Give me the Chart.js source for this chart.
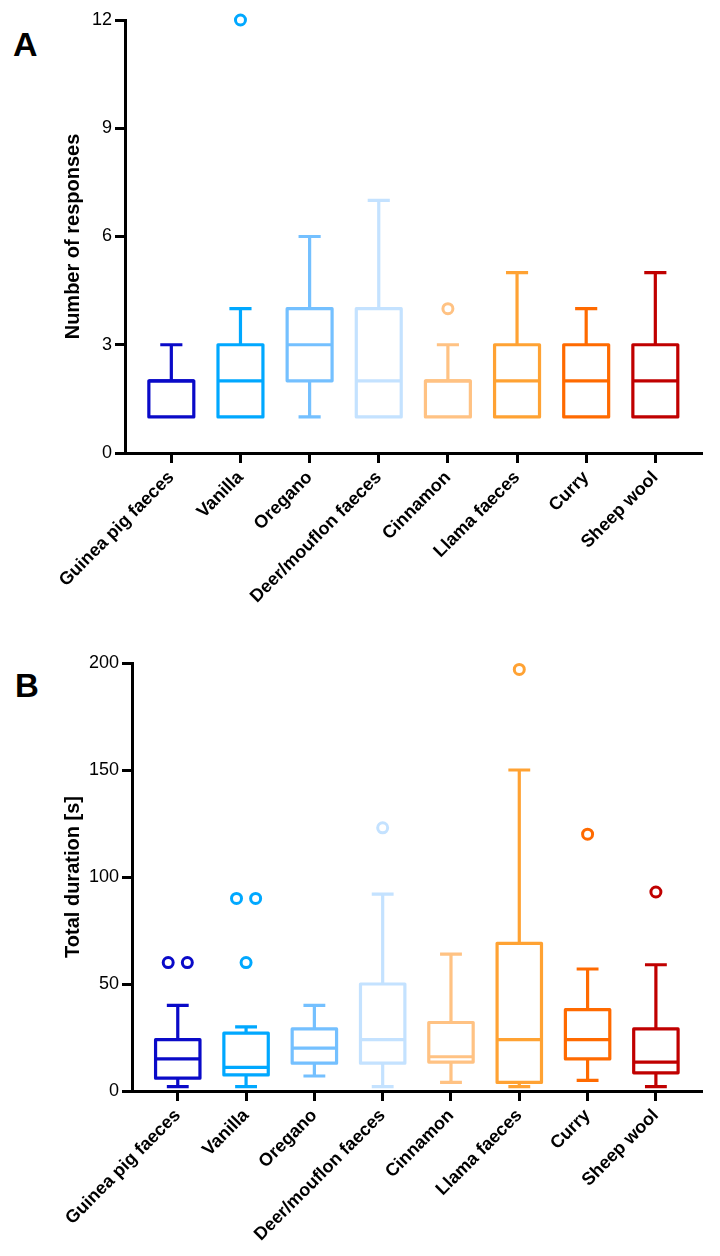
<!DOCTYPE html>
<html>
<head>
<meta charset="utf-8">
<script src="https://cdn.jsdelivr.net/npm/chart.js@4/dist/chart.umd.min.js"></script>
<style>
  html, body { margin: 0; padding: 0; background: #fff; }
  body { width: 720px; height: 1256px; position: relative; overflow: hidden; font-family: "Liberation Sans", Arial, sans-serif; }
  .wrap { position: absolute; left: 0; width: 720px; }
  .letter { position: absolute; font-weight: bold; line-height: 1; color: #000; font-family: "Liberation Sans", Arial, sans-serif; }
</style>
</head>
<body>
<div class="letter" style="left:13px; top:27px; font-size:34px;">A</div>
<div class="letter" style="left:15px; top:669px; font-size:33px;">B</div>
<div class="wrap" style="top:0; height:640px;"><canvas id="chartA" width="720" height="640"></canvas></div>
<div class="wrap" style="top:620px; height:636px;"><canvas id="chartB" width="720" height="636"></canvas></div>
<script>
// ---- Data ----
const categories = ["Guinea pig faeces", "Vanilla", "Oregano", "Deer/mouflon faeces", "Cinnamon", "Llama faeces", "Curry", "Sheep wool"];
const colors = ["#0a0ac8", "#00a8ff", "#74c0ff", "#c4e2ff", "#ffc283", "#ffa233", "#ff6a00", "#c00000"];

// Panel A: Number of responses
const responsesTicks = [0, 3, 6, 9, 12];
const responsesMin    = [1, 1, 1, 1, 1, 1, 1, 1];
const responsesQ1     = [1, 1, 2, 1, 1, 1, 1, 1];
const responsesMedian = [2, 2, 3, 2, 2, 2, 2, 2];
const responsesQ3     = [2, 3, 4, 4, 2, 3, 3, 3];
const responsesMax    = [3, 4, 6, 7, 3, 5, 4, 5];
const responsesOutliers = [[], [12], [], [], [4], [], [], []];

// Panel B: Total duration [s]
const durationTicks = [0, 50, 100, 150, 200];
const durationMin    = [2, 2, 7, 2, 4, 2, 5, 2];
const durationQ1     = [6, 7.5, 13, 13, 13.5, 4, 15, 8.5];
const durationMedian = [15, 11, 20, 24, 16, 24, 24, 13.5];
const durationQ3     = [24, 27, 29, 50, 32, 69, 38, 29];
const durationMax    = [40, 30, 40, 92, 64, 150, 57, 59];
const durationOutliers = [[60, 60], [90, 90, 60], [], [123], [], [197], [120], [93]];

// ---- Helpers ----
const FONT = "'Liberation Sans', Arial, sans-serif";
Chart.defaults.color = '#000';
Chart.defaults.font.family = FONT;

const boxPlugin = {
  id: 'boxes',
  beforeDatasetsDraw(chart) {
    const o = chart.options.plugins.boxes;
    if (!o) return;
    const { ctx } = chart;
    const x = chart.scales.x, y = chart.scales.y;
    ctx.save();
    ctx.lineWidth = 3.2;
    ctx.lineJoin = 'round';
    ctx.lineCap = 'butt';
    for (let i = 0; i < o.q1.length; i++) {
      const c = colors[i];
      ctx.strokeStyle = c;
      const xc = x.getPixelForValue(i);
      const xl = x.getPixelForValue(i - 0.325), xr = x.getPixelForValue(i + 0.325);
      const cl = x.getPixelForValue(i - 0.16), cr = x.getPixelForValue(i + 0.16);
      const yMin = y.getPixelForValue(o.min[i]);
      const yQ1 = y.getPixelForValue(o.q1[i]);
      const yMed = y.getPixelForValue(o.med[i]);
      const yQ3 = y.getPixelForValue(o.q3[i]);
      const yMax = y.getPixelForValue(o.max[i]);
      ctx.beginPath();
      if (o.max[i] > o.q3[i]) {
        ctx.moveTo(xc, yQ3); ctx.lineTo(xc, yMax);
        ctx.moveTo(cl, yMax); ctx.lineTo(cr, yMax);
      }
      if (o.min[i] < o.q1[i]) {
        ctx.moveTo(xc, yQ1); ctx.lineTo(xc, yMin);
        ctx.moveTo(cl, yMin); ctx.lineTo(cr, yMin);
      }
      ctx.stroke();
      ctx.beginPath();
      ctx.rect(xl, yQ3, xr - xl, yQ1 - yQ3);
      ctx.stroke();
      ctx.beginPath();
      ctx.moveTo(xl, yMed); ctx.lineTo(xr, yMed);
      ctx.stroke();
    }
    ctx.restore();
  }
};

function outlierPoints(outliers) {
  const pts = [], border = [];
  outliers.forEach((vals, i) => {
    const counts = {};
    vals.forEach(v => counts[v] = (counts[v] || 0) + 1);
    const seen = {};
    vals.forEach(v => {
      let dx = 0;
      if (counts[v] === 2) { dx = seen[v] ? 0.14 : -0.14; }
      seen[v] = (seen[v] || 0) + 1;
      pts.push({ x: i + dx, y: v });
      border.push(colors[i]);
    });
  });
  return { pts, border };
}

function makeChart(id, cfg) {
  const out = outlierPoints(cfg.outliers);
  return new Chart(document.getElementById(id), {
    type: 'scatter',
    data: {
      datasets: [{
        data: out.pts,
        pointStyle: 'circle',
        pointRadius: 5,
        pointHoverRadius: 5,
        borderWidth: 3,
        pointBorderWidth: 3,
        pointBorderColor: out.border,
        pointBackgroundColor: '#fff',
        clip: false
      }]
    },
    options: {
      responsive: false,
      animation: false,
      devicePixelRatio: 1,
      layout: { padding: { top: cfg.padTop, right: 18, left: 0, bottom: 0 } },
      plugins: {
        legend: { display: false },
        tooltip: { enabled: false },
        boxes: cfg.stats
      },
      scales: {
        x: {
          type: 'linear',
          min: -0.67,
          max: 7.675,
          afterBuildTicks(scale) { scale.ticks = categories.map((_, i) => ({ value: i })); },
          afterFit(scale) { scale.height = cfg.xHeight; },
          border: { display: true, color: '#000', width: 3 },
          grid: { drawOnChartArea: false, drawTicks: true, tickLength: 10, tickWidth: 3, tickColor: '#000' },
          ticks: {
            autoSkip: false,
            minRotation: 45,
            maxRotation: 45,
            padding: 4,
            color: '#000',
            font: { family: FONT, size: 18, weight: 'bold' },
            callback: (v) => categories[Math.round(v)] || ''
          }
        },
        y: {
          type: 'linear',
          min: cfg.ticks[0],
          max: cfg.ticks[cfg.ticks.length - 1],
          afterBuildTicks(scale) { scale.ticks = cfg.ticks.map(v => ({ value: v })); },
          afterFit(scale) { scale.width = cfg.yWidth; },
          border: { display: true, color: '#000', width: 3 },
          grid: { drawOnChartArea: false, drawTicks: true, tickLength: 10, tickWidth: 3, tickColor: '#000' },
          ticks: { padding: 3, color: '#000', font: { family: FONT, size: 18 } },
          title: {
            display: true,
            text: cfg.title,
            color: '#000',
            font: { family: FONT, size: 20, weight: 'bold' },
            padding: { top: 61, bottom: 0 }
          }
        }
      }
    },
    plugins: [boxPlugin]
  });
}

makeChart('chartA', {
  title: 'Number of responses',
  ticks: responsesTicks,
  outliers: responsesOutliers,
  stats: { min: responsesMin, q1: responsesQ1, med: responsesMedian, q3: responsesQ3, max: responsesMax },
  padTop: 20, xHeight: 187, yWidth: 125
});

makeChart('chartB', {
  title: 'Total duration [s]',
  ticks: durationTicks,
  outliers: durationOutliers,
  stats: { min: durationMin, q1: durationQ1, med: durationMedian, q3: durationQ3, max: durationMax },
  padTop: 43, xHeight: 165, yWidth: 132
});
</script>
</body>
</html>
